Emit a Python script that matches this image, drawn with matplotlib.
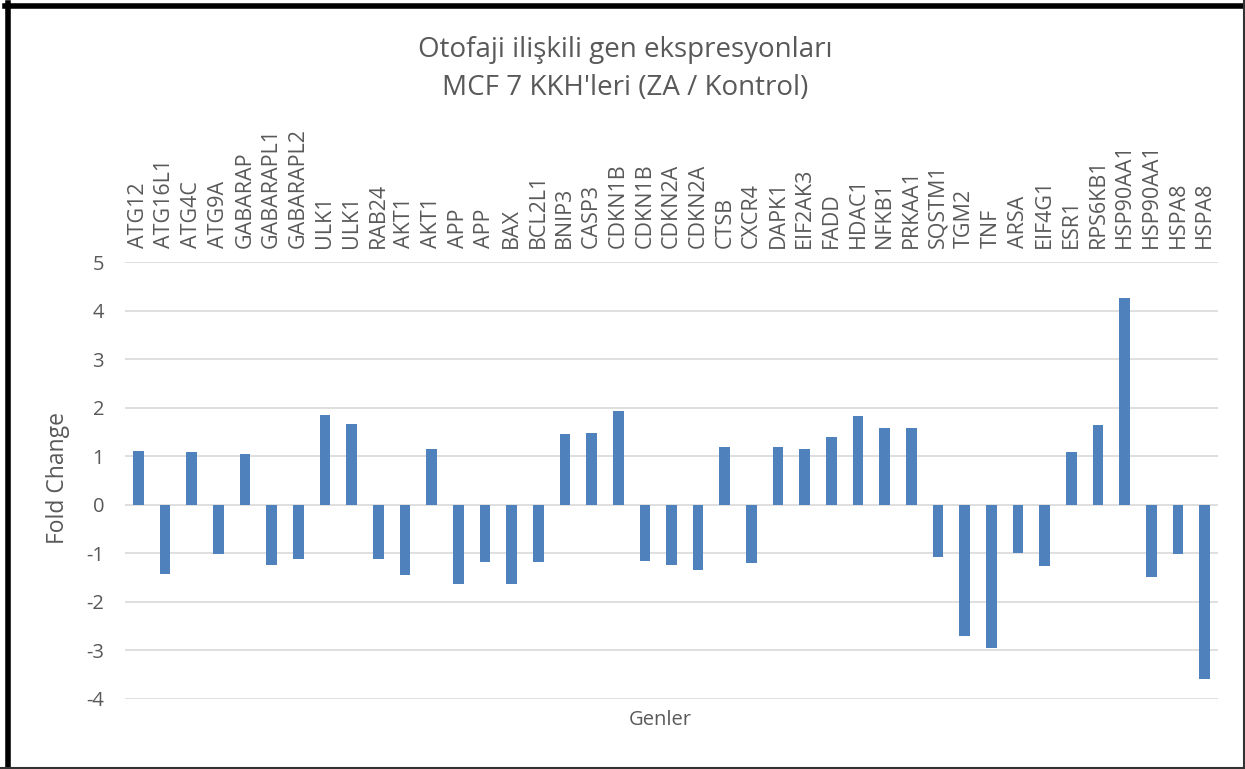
import matplotlib
matplotlib.use('Agg')
import matplotlib.pyplot as plt
from matplotlib.lines import Line2D

plt.rcParams['font.family'] = ['Open Sans', 'DejaVu Sans']

genler = ['ATG12', 'ATG16L1', 'ATG4C', 'ATG9A', 'GABARAP', 'GABARAPL1', 'GABARAPL2',
          'ULK1', 'ULK1', 'RAB24', 'AKT1', 'AKT1', 'APP', 'APP', 'BAX', 'BCL2L1',
          'BNIP3', 'CASP3', 'CDKN1B', 'CDKN1B', 'CDKN2A', 'CDKN2A', 'CTSB', 'CXCR4',
          'DAPK1', 'EIF2AK3', 'FADD', 'HDAC1', 'NFKB1', 'PRKAA1', 'SQSTM1', 'TGM2',
          'TNF', 'ARSA', 'EIF4G1', 'ESR1', 'RPS6KB1', 'HSP90AA1', 'HSP90AA1',
          'HSPA8', 'HSPA8']
fold_change = [1.10, -1.42, 1.08, -1.02, 1.05, -1.25, -1.12,
               1.85, 1.67, -1.12, -1.45, 1.15, -1.63, -1.18, -1.63, -1.18,
               1.45, 1.48, 1.93, -1.15, -1.25, -1.35, 1.20, -1.20,
               1.18, 1.15, 1.40, 1.82, 1.58, 1.58, -1.08, -2.70,
               -2.95, -1.00, -1.27, 1.08, 1.65, 4.25, -1.48,
               -1.02, -3.58]
y_ticks = [5, 4, 3, 2, 1, 0, -1, -2, -3, -4]

gri = '#595959'
W, H = 1245, 769

fig = plt.figure(figsize=(12.45, 7.69), dpi=100)
ax = fig.add_axes([125 / W, 1 - 699 / H, (1218 - 125) / W, (699 - 262) / H])

x = list(range(len(genler)))
ax.bar(x, fold_change, width=0.4, color='#4f81bd', zorder=3)

ax.set_xlim(-0.5, len(genler) - 0.5)
ax.set_ylim(-4, 5)
ax.set_yticks(y_ticks)
ax.set_yticklabels([str(v) for v in y_ticks])
ax.grid(axis='y', color='#d9d9d9', linewidth=1.2, zorder=0)

ax.xaxis.tick_top()
ax.set_xticks(x)
ax.set_xticklabels(genler, rotation=90)
ax.tick_params(axis='x', length=0, pad=10, labelsize=15.5, labelcolor=gri)
ax.tick_params(axis='y', length=0, pad=15, labelsize=14.5, labelcolor=gri)
for s in ax.spines.values():
    s.set_visible(False)

fig.text(58 / W, 1 - 478 / H, 'Fold Change', fontsize=16.5, color=gri, rotation=90,
         ha='center', va='center')
fig.text(660 / W, 1 - 720 / H, 'Genler', fontsize=14.5, color=gri, ha='center', va='center')

fig.text(625 / W, 1 - 50 / H, 'Otofaji ilişkili gen ekspresyonları', fontsize=20,
         color=gri, ha='center', va='center')
fig.text(625 / W, 1 - 88 / H, "MCF 7 KKH'leri (ZA / Kontrol)", fontsize=20,
         color=gri, ha='center', va='center')

# cerceve
fig.add_artist(Line2D([7.5 / W, 7.5 / W], [0, 1 - 3 / H], color='black', lw=4, transform=fig.transFigure))
fig.add_artist(Line2D([5 / W, 1], [1 - 5.5 / H, 1 - 5.5 / H], color='black', lw=4, transform=fig.transFigure))
fig.add_artist(Line2D([1 - 1.5 / W, 1 - 1.5 / W], [0, 1], color='#333333', lw=1.5, transform=fig.transFigure))
fig.add_artist(Line2D([0, 1], [1.5 / H, 1.5 / H], color='#333333', lw=1.5, transform=fig.transFigure))

fig.savefig('out.png', dpi=100)
